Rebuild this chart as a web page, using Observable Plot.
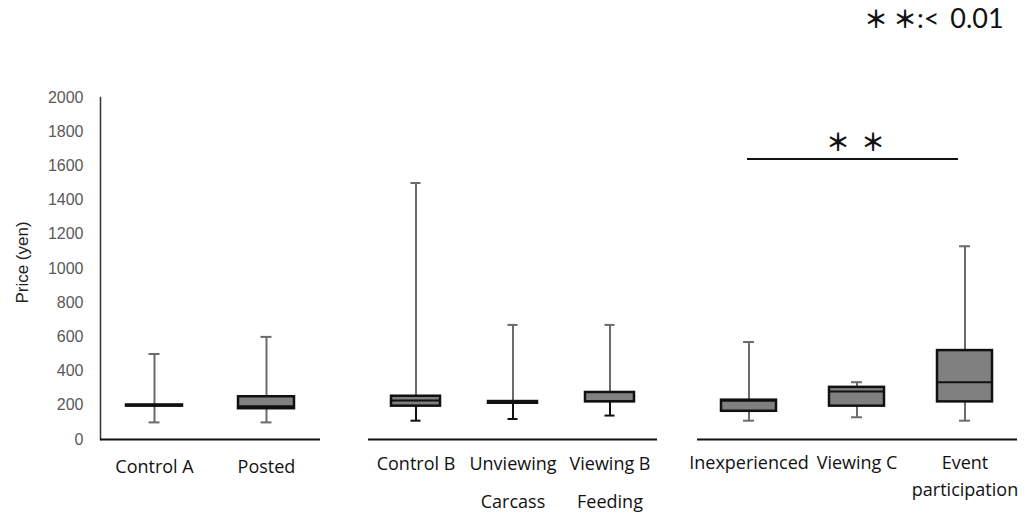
<!DOCTYPE html>
<html><head><meta charset="utf-8">
<script src="https://cdn.jsdelivr.net/npm/d3@7"></script>
<script src="https://cdn.jsdelivr.net/npm/@observablehq/plot@0.6"></script>
<style>
html,body{margin:0;padding:0;background:#fff;}
#wrap{position:relative;width:1026px;height:513px;display:flex;align-items:flex-start;overflow:hidden;}
#legend{position:absolute;left:864px;top:3px;font-size:24px;line-height:30px;font-family:Lato,sans-serif;color:#111;white-space:pre;}
#legend .ast{font-family:"Noto Sans CJK JP",sans-serif;font-weight:bold;}
#legend .thr{font-size:27px;word-spacing:4px;}
</style></head><body>
<div id="wrap"><div id="legend"></div></div>
<script>
// ---- data ----
const categories = ["Control A", "Posted", "Control B", "Unviewing\nCarcass", "Viewing B\nFeeding", "Inexperienced", "Viewing C", "Event\nparticipation"];
const groupOf    = [0, 0, 1, 1, 1, 2, 2, 2];
const whiskerLow = [100, 100, 110, 120, 140, 110, 130, 110];
const quartile1  = [195, 180, 195, 212, 220, 165, 195, 220];
const median     = [200, 195, 228, 218, 225, 226, 280, 335];
const quartile3  = [202, 250, 253, 222, 275, 230, 305, 520];
const whiskerHigh= [500, 600, 1500, 670, 670, 570, 335, 1130];
const yTicks = [0, 200, 400, 600, 800, 1000, 1200, 1400, 1600, 1800, 2000];
const yLabel = "Price (yen)";
const sigPair = ["Inexperienced", "Event\nparticipation"];
const sigMid = "Viewing C";
const sigLevel = 1640;
const sigMark = "＊";
const sigThreshold = "< 0.01";

// legend (HTML, above the charts)
const legend = document.getElementById("legend");
legend.innerHTML =
  `<span class="ast">${sigMark}</span><span class="ast" style="margin-left:5px">${sigMark}</span>` +
  `<span class="thr">:${sigThreshold}</span>`;

const rows = categories.map((c, i) => ({
  cat: c, group: groupOf[i], lo: whiskerLow[i], q1: quartile1[i],
  med: median[i], q3: quartile3[i], hi: whiskerHigh[i]
}));

const H = 513;
const panels = [
  {width: 340, marginLeft: 100, marginRight: 20, pi: 0.5, po: 0.232, lineHeight: 1, tickPadding: 21, lowStroke: "#6b6b6b"},
  {width: 340, marginLeft: 28, marginRight: 23, pi: 0.49, po: 0.22, lineHeight: 2.11, tickPadding: 4, lowStroke: "#111"},
  {width: 346, marginLeft: 17, marginRight: 9, pi: 0.49, po: 0.226, lineHeight: 1.5, tickPadding: 10, lowStroke: "#6b6b6b"}
];

const gray = "#6b6b6b";
const wrap = document.getElementById("wrap");

panels.forEach((p, g) => {
  const data = rows.filter(d => d.group === g);
  const cats = data.map(d => d.cat);
  const W = p.width - p.marginLeft - p.marginRight;
  const step = W / (cats.length - p.pi + 2 * p.po);
  const bw = step * (1 - p.pi);
  const capInset = (bw - 11) / 2;
  const marks = [
    Plot.ruleY([0], {stroke: "#111", strokeWidth: 2}),
    Plot.ruleX(data, {x: "cat", y1: "q3", y2: "hi", stroke: gray, strokeWidth: 2}),
    Plot.ruleX(data, {x: "cat", y1: "lo", y2: "q1", stroke: p.lowStroke, strokeWidth: 2}),
    Plot.barY(data, {x: "cat", y1: "q1", y2: "q3", fill: "#808080", stroke: "#111", strokeWidth: 2.5}),
    Plot.tickY(data, {x: "cat", y: "med", stroke: "#111", strokeWidth: 2}),
    Plot.tickY(data, {x: "cat", y: "hi", stroke: gray, strokeWidth: 2, insetLeft: capInset, insetRight: capInset}),
    Plot.tickY(data, {x: "cat", y: "lo", stroke: p.lowStroke, strokeWidth: 2, insetLeft: capInset, insetRight: capInset}),
    Plot.axisX({tickSize: 0, tickPadding: p.tickPadding, lineHeight: p.lineHeight, fontSize: 18, fill: "#111", label: null, fontFamily: "'Open Sans', sans-serif"})
  ];
  if (g === 0) {
    marks.unshift(Plot.frame({anchor: "left", stroke: "#333", strokeWidth: 1.5}));
    marks.push(Plot.axisY({ticks: yTicks, tickFormat: d3.format("d"), tickSize: 0, tickPadding: 17, fontSize: 16, fill: "#595959",
      fontFamily: "'Liberation Sans', Arial, sans-serif", label: null}));
    marks.push(Plot.text([yLabel], {frameAnchor: "left", text: d => d, rotate: -90, textAnchor: "middle", dx: -78, dy: -6, fontSize: 17,
      fontFamily: "'Liberation Sans', Arial, sans-serif", fill: "#222"}));
  }
  if (g === 2) {
    marks.push(Plot.ruleY([sigLevel], {x1: () => sigPair[0], x2: () => sigPair[1], stroke: "#111", strokeWidth: 2, insetLeft: 26, insetRight: 34}));
    for (const off of [-19, 16]) {
      marks.push(Plot.text([sigLevel], {x: () => sigMid, y: d => d, text: () => sigMark, dx: off, dy: -16, fontSize: 24, fontWeight: "bold",
        fontFamily: "'Noto Sans CJK JP', sans-serif", fill: "#111"}));
    }
  }
  const chart = Plot.plot({
    width: p.width, height: H,
    marginTop: 97, marginBottom: 74, marginLeft: p.marginLeft, marginRight: p.marginRight,
    x: {type: "band", domain: cats, paddingInner: p.pi, paddingOuter: p.po, align: 0.5},
    y: {domain: [0, 2000], axis: g === 0 ? undefined : null},
    style: {fontFamily: "'Open Sans', sans-serif", background: "transparent", overflow: "visible", color: "#111"},
    marks
  });
  chart.style.flex = "none";
  wrap.appendChild(chart);
});
</script>
</body></html>
